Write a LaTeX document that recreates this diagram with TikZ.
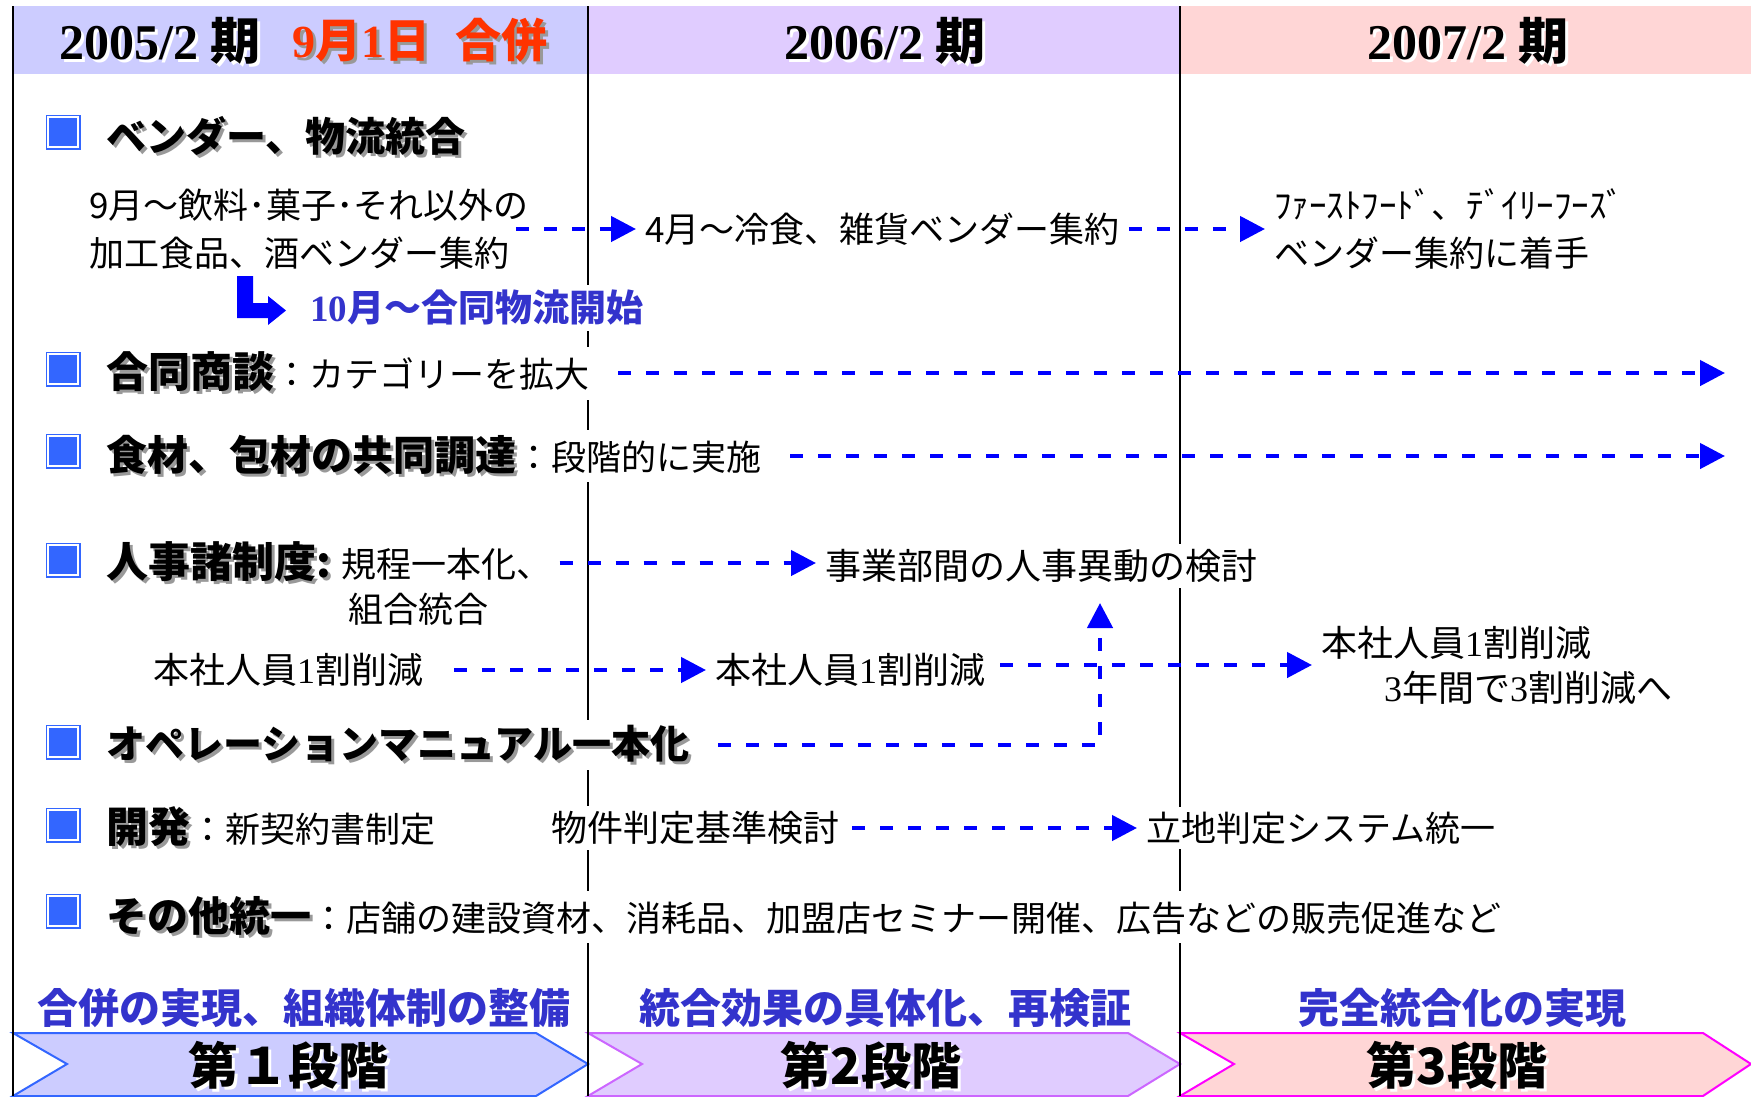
\documentclass[tikz,border=0pt]{standalone}
\usepackage{fontspec}
\setmainfont{Noto Sans CJK JP}
\newfontfamily\tnr{Liberation Serif}
\usetikzlibrary{arrows.meta}
\definecolor{hdrA}{HTML}{CCCCFF}
\definecolor{hdrB}{HTML}{E0CCFF}
\definecolor{hdrC}{HTML}{FFD6D6}
\definecolor{chevAline}{HTML}{3366FF}
\definecolor{chevBline}{HTML}{CC66FF}
\definecolor{chevCline}{HTML}{FF00FF}
\definecolor{bblue}{HTML}{3366FF}
\definecolor{arrblue}{HTML}{0000FF}
\definecolor{tblue}{HTML}{3333CC}
\definecolor{hred}{HTML}{FF3300}
\definecolor{shgray}{HTML}{999999}
\newcommand\shd[2]{\makebox[0pt][l]{\hspace{3pt}\raisebox{-3pt}{\textcolor{#1}{#2}}}#2}
\newcommand\fsT{\fontsize{40}{46}\selectfont\bfseries}
\begin{document}
\begin{tikzpicture}[x=1pt,y=-1pt,
  txt/.style={anchor=west, fill=white, inner xsep=3pt, inner ysep=5pt, align=left, font=\fontsize{35}{48}\selectfont},
  hdr/.style={inner sep=0pt, font=\fontsize{50}{56}\selectfont\bfseries},
  bul/.style={rectangle, minimum size=30pt, inner sep=0pt, fill=bblue, draw=bblue, line width=1.5pt, double=white, double distance=2pt},
  darr/.style={draw=arrblue, line width=4.5pt, dash pattern=on 13pt off 15pt, -{Triangle[length=25pt,width=25pt]}, shorten >=6pt},
  divline/.style={draw=black, line width=1.6pt},
  phaselbl/.style={inner sep=0pt, text=tblue, font=\fontsize{41}{46}\selectfont\bfseries},
  stagelbl/.style={inner sep=0pt, font=\fontsize{50}{56}\selectfont\bfseries}
]
\useasboundingbox (0,0) rectangle (1751,1096);
\fill[white] (0,0) rectangle (1751,1096);
% header bands
\fill[hdrA] (13,6) rectangle (588,74);
\fill[hdrB] (588,6) rectangle (1180,74);
\fill[hdrC] (1180,6) rectangle (1751,74);
% chevrons
\filldraw[fill=hdrA, draw=chevAline, line width=2pt] (13,1033) -- (536,1033) -- (588,1064) -- (536,1096) -- (13,1096) -- (67,1064) -- cycle;
\filldraw[fill=hdrB, draw=chevBline, line width=2pt] (588,1033) -- (1128,1033) -- (1180,1064) -- (1128,1096) -- (588,1096) -- (642,1064) -- cycle;
\filldraw[fill=hdrC, draw=chevCline, line width=2pt] (1180,1033) -- (1703,1033) -- (1751,1064) -- (1703,1096) -- (1180,1096) -- (1234,1064) -- cycle;
% dividers
\draw[divline] (13,6) -- (13,1096);
\draw[divline] (588,6) -- (588,1096);
\draw[divline] (1180,6) -- (1180,1096);
% header texts
\node[hdr] (h1) at (160,42) {\shd{white}{{\tnr 2005/2} 期}};
\node[hdr, text=hred, font=\fontsize{46}{52}\selectfont\bfseries] (h1r) at (420,42) {\shd{shgray}{{\tnr 9}月{\tnr 1}日\hspace{26pt}合併}};
\node[hdr] (h2) at (885,42) {\shd{white}{{\tnr 2006/2} 期}};
\node[hdr] (h3) at (1468,42) {\shd{white}{{\tnr 2007/2} 期}};
% bullets
\node[bul] (b1) at (63,132) {};
\node[bul] (b2) at (63,369) {};
\node[bul] (b3) at (63,451) {};
\node[bul] (b4) at (63,560) {};
\node[bul] (b6) at (63,742) {};
\node[bul] (b7) at (63,825) {};
\node[bul] (b8) at (63,911) {};
% row 1
\node[txt, font=\fsT] (t1) at (103,137) {\shd{shgray}{ベンダー、物流統合}};
\node[txt] (t1a) at (86,229) {9月～飲料･菓子･それ以外の\\加工食品、酒ベンダー集約};
\node[txt] (t1b) at (642,229) {4月～冷食、雑貨ベンダー集約};
\node[txt] (t1c) at (1271,229) {ﾌｧｰｽﾄﾌｰﾄﾞ、ﾃﾞｲﾘｰﾌｰｽﾞ\\ベンダー集約に着手};
\fill[arrblue] (237,276) -- (253,276) -- (253,303) -- (268,303) -- (268,296) -- (286,310.5) -- (268,325) -- (268,318) -- (237,318) -- cycle;
\node[txt, text=tblue, font=\fontsize{37}{44}\selectfont\bfseries] (t10) at (307,308) {{\tnr 10}月～合同物流開始};
% row 2
\node[txt] (t2) at (103,373) {{\fontsize{42}{46}\selectfont\bfseries\shd{shgray}{合同商談}}：カテゴリーを拡大};
\coordinate (e2) at (1731,373);
% row 3
\node[txt] (t3) at (103,456) {{\fontsize{41}{46}\selectfont\bfseries\shd{shgray}{食材、包材の共同調達}}：段階的に実施};
\coordinate (e3) at (1731,456);
% row 4
\node[txt] (t4) at (103,563) {{\fontsize{42}{46}\selectfont\bfseries\shd{shgray}{人事諸制度:}} 規程一本化、};
\node[txt] (t4c) at (345,609) {組合統合};
\node[txt, font=\fontsize{36}{48}\selectfont] (t4b) at (822,566) {事業部間の人事異動の検討};
% row 5
\node[txt, font=\fontsize{36}{48}\selectfont] (t5a) at (150,670) {本社人員{\tnr 1}割削減};
\node[txt, font=\fontsize{36}{48}\selectfont] (t5b) at (712,670) {本社人員{\tnr 1}割削減};
\node[txt, font=\fontsize{36}{45}\selectfont] (t5c) at (1318,665) {本社人員{\tnr 1}割削減\\\hspace*{63pt}{\tnr 3}年間で{\tnr 3}割削減へ};
% row 6
\node[txt, font=\fontsize{39}{46}\selectfont\bfseries] (t6) at (103,745) {\shd{shgray}{オペレーションマニュアル一本化}};
\coordinate (v6) at (1100,597);
% row 7
\node[txt] (t7) at (103,828) {{\fontsize{42}{46}\selectfont\bfseries\shd{shgray}{開発}}：新契約書制定};
\node[txt, font=\fontsize{36}{48}\selectfont] (t7b) at (548,828) {物件判定基準検討};
\node[txt] (t7c) at (1143,828) {立地判定システム統一};
% row 8
\node[txt] (t8) at (103,917) {{\fontsize{41}{46}\selectfont\bfseries\shd{shgray}{その他統一}}：店舗の建設資材、消耗品、加盟店セミナー開催、広告などの販売促進など};
% phase labels
\node[phaselbl] (p1) at (304,1008) {合併の実現、組織体制の整備};
\node[phaselbl] (p2) at (885,1008) {統合効果の具体化、再検証};
\node[phaselbl] (p3) at (1462,1008) {完全統合化の実現};
% stage labels
\node[stagelbl] (s1) at (288,1067) {\shd{white}{第１段階}};
\node[stagelbl] (s2) at (871,1067) {\shd{white}{第2段階}};
\node[stagelbl] (s3) at (1457,1067) {\shd{white}{第3段階}};
% connectors
\draw[darr, shorten <=-16pt] (t1a.east) -- (t1b.west);
\draw[darr, shorten <=6pt] (t1b.east) -- (t1c.west);
\draw[darr, shorten <=26pt] (t2.east) -- (e2);
\draw[darr, shorten <=26pt] (t3.east) -- (e3);
\draw[darr, shorten <=5pt] (t4.east) -- (t4.east -| t4b.west);
\draw[darr, shorten <=28pt] (t5a.east) -- (t5b.west);
\draw[darr, shorten <=12pt] (t5b.east |- t5c.west) -- (t5c.west);
\draw[darr, shorten <=26pt] (t6.east) -| (v6);
\draw[darr, shorten <=10pt] (t7b.east) -- (t7c.west);
\end{tikzpicture}
\end{document}
